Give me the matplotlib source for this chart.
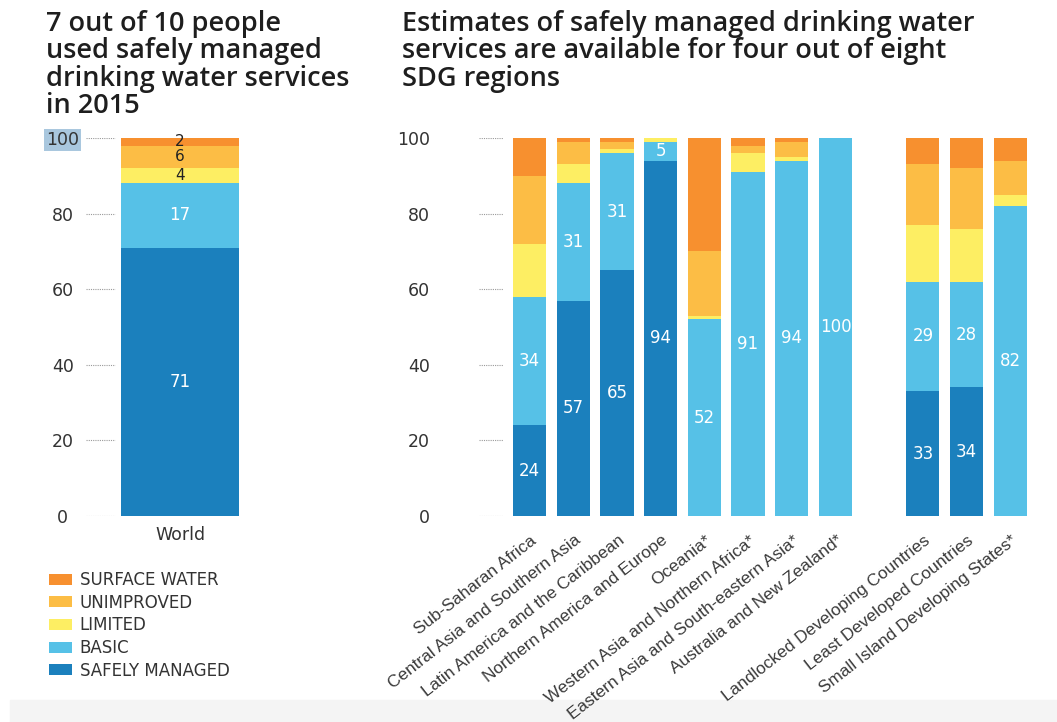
import matplotlib
matplotlib.use("Agg")
import matplotlib.pyplot as plt
import matplotlib.transforms as mtransforms
from matplotlib.patches import Patch, Rectangle

# service levels, bottom to top
levels = ["SAFELY MANAGED", "BASIC", "LIMITED", "UNIMPROVED", "SURFACE WATER"]
colors = ["#1b80bd", "#56c1e7", "#fdee63", "#fcbd45", "#f7902f"]

world_values = [71, 17, 4, 6, 2]

regions = ["Sub-Saharan Africa", "Central Asia and Southern Asia",
           "Latin America and the Caribbean", "Northern America and Europe",
           "Oceania*", "Western Asia and Northern Africa*",
           "Eastern Asia and South-eastern Asia*", "Australia and New Zealand*",
           "Landlocked Developing Countries", "Least Developed Countries",
           "Small Island Developing States*"]
region_pos = [0, 1, 2, 3, 4, 5, 6, 7, 9, 10, 11]
safely = [24, 57, 65, 94, 0, 0, 0, 0, 33, 34, 0]
basic = [34, 31, 31, 5, 52, 91, 94, 100, 29, 28, 82]
limited = [14, 5, 1, 1, 1, 5, 1, 0, 15, 14, 3]
unimproved = [18, 6, 2, 0, 17, 2, 4, 0, 16, 16, 9]
surface = [10, 1, 1, 0, 30, 2, 1, 0, 7, 8, 6]

yticks = [0, 20, 40, 60, 80, 100]

W, H = 1057, 722
fig = plt.figure(figsize=(W / 100, H / 100), dpi=100)
plt.rcParams['font.family'] = ['DejaVu Sans']


def px_axes(left, top, right, bottom):
    return fig.add_axes([left / W, 1 - bottom / H, (right - left) / W, (bottom - top) / H])


def style_axes(ax, pad, tick_x1):
    for s in ax.spines.values():
        s.set_visible(False)
    ax.set_ylim(0, 100)
    ax.set_yticks(yticks)
    ax.tick_params(axis='y', length=0, pad=pad, labelsize=12.5, labelcolor='#333333')
    ax.tick_params(axis='x', length=0)
    ax.hlines(yticks, 0.005, tick_x1, transform=ax.get_yaxis_transform(),
              colors='#9a9a9a', linestyles=(0, (1, 1)), lw=0.8)


# grey strip at the bottom of the screenshot
fig.patches.append(Rectangle((10 / W, 0), 1, 22 / H, transform=fig.transFigure,
                             color='#f4f4f4', zorder=-1))

# ---- left panel: world
ax1 = px_axes(85, 138, 250, 516)
style_axes(ax1, 16, 0.18)
for lab in ax1.get_yticklabels():
    lab.set_horizontalalignment('center')
bottom = 0
for i, lvl in enumerate(levels):
    v = world_values[i]
    bars = ax1.bar([0], [v], bottom=bottom, width=1.0, color=colors[i])
    if i < 2:
        ax1.bar_label(bars, labels=[str(v)], label_type='center', color='white', fontsize=12)
    else:
        ax1.bar_label(bars, labels=[str(v)], label_type='center', color='#222222', fontsize=11)
    bottom += v
ax1.set_xlim(-0.805, 0.593)
ax1.set_xticks([0])
ax1.set_xticklabels(["World"], fontsize=12.5, color='#333333')
ax1.tick_params(axis='x', pad=7)
ax1.get_yticklabels()[-1].set_bbox(dict(facecolor='#a9c7de', edgecolor='none', pad=1.5))

# ---- right panel: regions
ax2 = px_axes(476, 138, 1040, 516)
style_axes(ax2, 33, 0.048)
series = [safely, basic, limited, unimproved, surface]
base = [0] * len(regions)
for i, vals in enumerate(series):
    bars = ax2.bar(region_pos, vals, bottom=base, width=0.76, color=colors[i])
    if i < 2:
        labs = [str(v) if v > 0 else "" for v in vals]
        ax2.bar_label(bars, labels=labs, label_type='center', color='white', fontsize=12)
    base = [b + v for b, v in zip(base, vals)]
ax2.set_xlim(-1.224, 11.68)
ax2.set_xticks(region_pos)
ax2.set_xticklabels(regions, rotation=38, ha='right', fontsize=12.4,
                    color='#3a3a3a', family='Liberation Sans')
ax2.tick_params(axis='x', pad=12)
shift = mtransforms.ScaledTranslation(10 / 100, 0, fig.dpi_scale_trans)
for lab in ax2.get_xticklabels():
    lab.set_transform(lab.get_transform() + shift)

# ---- titles
title_kw = dict(va='top', ha='left', fontsize=19.5, linespacing=0.97, color='#1e1e1e',
                family='Open Sans', fontweight='semibold')
fig.text(46 / W, 1 - 10 / H,
         "7 out of 10 people\nused safely managed\ndrinking water services\nin 2015", **title_kw)
fig.text(402 / W, 1 - 10 / H,
         "Estimates of safely managed drinking water\nservices are available for four out of eight\nSDG regions",
         **title_kw)

# ---- legend
handles = [Patch(facecolor=colors[i], edgecolor='none') for i in range(len(levels) - 1, -1, -1)]
labels = [levels[i] for i in range(len(levels) - 1, -1, -1)]
fig.legend(handles, labels, loc='upper left', bbox_to_anchor=(34 / W, 1 - 556 / H),
           frameon=False, fontsize=12, handlelength=1.35, handleheight=0.65,
           handletextpad=0.5, labelspacing=0.28, labelcolor='#333333')

fig.savefig("out.png", dpi=100)
